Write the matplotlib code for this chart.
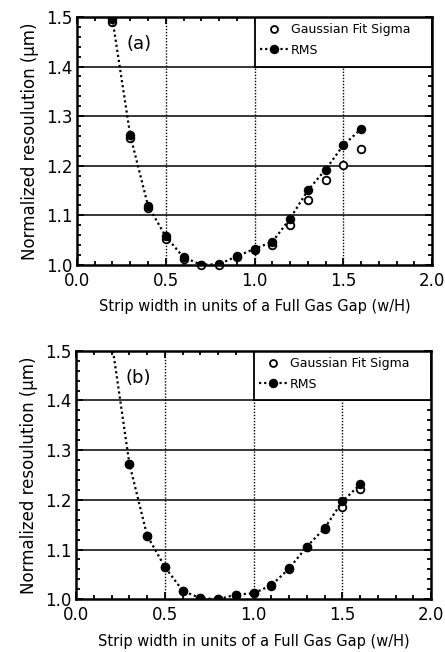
import matplotlib
matplotlib.use('Agg')
import matplotlib.pyplot as plt
from matplotlib.patches import Rectangle
from matplotlib.ticker import MultipleLocator
from matplotlib.lines import Line2D

# strip width w/H
width = [0.2, 0.3, 0.4, 0.5, 0.6, 0.7, 0.8, 0.9, 1.0, 1.1, 1.2, 1.3, 1.4, 1.5, 1.6]

# panel (a)
rms_a = [1.495, 1.261, 1.119, 1.057, 1.015, 1.000, 1.001, 1.017, 1.032, 1.046, 1.093, 1.150, 1.192, 1.241, 1.274]
gauss_a = [1.490, 1.255, 1.114, 1.052, 1.012, 1.000, 1.000, 1.015, 1.030, 1.040, 1.080, 1.130, 1.170, 1.202, 1.233]

# panel (b)
rms_b = [1.52, 1.273, 1.128, 1.065, 1.017, 1.002, 1.000, 1.009, 1.012, 1.028, 1.062, 1.106, 1.143, 1.197, 1.231]
gauss_b = [1.52, 1.272, 1.127, 1.064, 1.016, 1.002, 1.000, 1.008, 1.012, 1.027, 1.061, 1.105, 1.142, 1.185, 1.221]

panels = [('(a)', rms_a, gauss_a), ('(b)', rms_b, gauss_b)]
positions = [[0.173, 0.594, 0.798, 0.380], [0.171, 0.081, 0.798, 0.381]]

plt.rcParams['font.family'] = ['DejaVu Sans']

fig = plt.figure(figsize=(4.45, 6.52), dpi=100)

for (tag, rms, gauss), pos in zip(panels, positions):
    ax = fig.add_axes(pos)
    ax.set_xlim(0, 2.0)
    ax.set_ylim(1.0, 1.5)

    # grid
    for gx in [0.5, 1.0, 1.5]:
        ax.axvline(gx, color='black', lw=1.0, ls=(0, (1, 1.2)), zorder=1)
    for gy in [1.1, 1.2, 1.3, 1.4]:
        ax.axhline(gy, color='black', lw=1.1, ls='-', zorder=1)

    ax.plot(width, gauss, ls='none', marker='o', ms=5.5, mfc='white', mec='black',
            mew=1.3, zorder=4, clip_on=False if tag == '(a)' else True)
    ax.plot(width, rms, color='black', lw=1.6, ls=(0, (1, 1.3)), marker='o', ms=5.8,
            mfc='black', mec='black', zorder=5, clip_on=True)

    # legend box
    ax.add_patch(Rectangle((1.0, 1.4), 1.0, 0.1, fc='white', ec='black', lw=1.3, zorder=6))
    handles = [Line2D([], [], ls='none', marker='o', ms=5, mfc='white', mec='black', mew=1.3),
               Line2D([], [], color='black', lw=1.6, ls=(0, (1, 1.3)), marker='o', ms=5.8, mfc='black')]
    leg = ax.legend(handles, ['Gaussian Fit Sigma', 'RMS'], loc='upper left',
                    bbox_to_anchor=(0.49, 1.01), frameon=False, fontsize=9,
                    handlelength=2.3, handletextpad=0.2, labelspacing=0.6,
                    borderaxespad=0.3)
    leg.set_zorder(7)

    ax.text(0.35, 1.445, tag, fontsize=13, ha='center', va='center')

    ax.xaxis.set_major_locator(MultipleLocator(0.5))
    ax.xaxis.set_minor_locator(MultipleLocator(0.1))
    ax.yaxis.set_major_locator(MultipleLocator(0.1))
    ax.yaxis.set_minor_locator(MultipleLocator(0.02))
    ax.tick_params(which='both', direction='in', top=True, right=True, width=1.3)
    ax.tick_params(which='major', length=5, labelsize=12)
    ax.tick_params(axis='x', which='major', pad=5)
    ax.tick_params(axis='y', which='major', pad=3)
    ax.tick_params(which='minor', length=3)
    ax.set_xticks([0.0, 0.5, 1.0, 1.5, 2.0])
    ax.set_xticklabels(['0.0', '0.5', '1.0', '1.5', '2.0'])
    for s in ax.spines.values():
        s.set_linewidth(1.8)
        s.set_zorder(8)

    ax.set_xlabel('Strip width in units of a Full Gas Gap (w/H)', fontsize=10.5, labelpad=7)
    ax.set_ylabel('Normalized resoulution (\u03bcm)', fontsize=12, labelpad=5)

fig.savefig('out.png', dpi=100)
